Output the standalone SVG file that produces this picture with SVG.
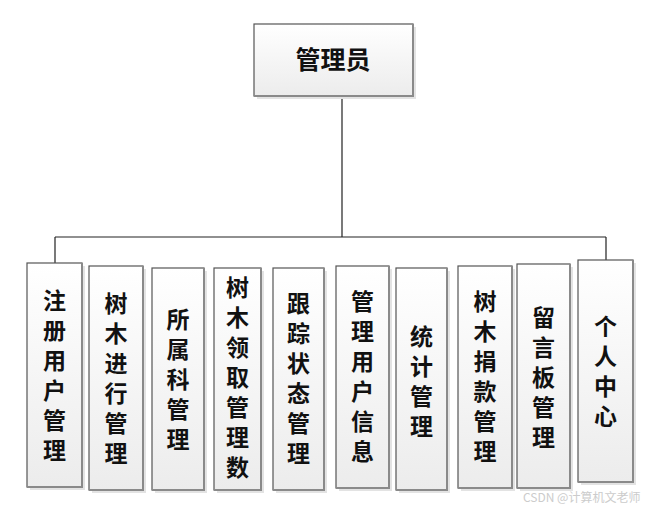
<svg xmlns="http://www.w3.org/2000/svg" width="654" height="511" viewBox="0 0 654 511">
<defs>
<linearGradient id="g" x1="0" y1="0" x2="0" y2="1">
<stop offset="0" stop-color="#ffffff"/>
<stop offset="1" stop-color="#ececec"/>
</linearGradient>
</defs>
<style>
.sh{fill:#e3e3e3;}
.bx{fill:url(#g);stroke:#555;stroke-width:1.2;}
.br{fill:none;stroke:#8a8a8a;stroke-width:2;}
.t{font-family:"Noto Sans CJK SC","Noto Sans",sans-serif;font-weight:bold;font-size:23px;fill:#111;text-anchor:middle;dominant-baseline:central;}
.c{fill:none;stroke:#222;stroke-width:1.2;}
.wm{font-family:"Noto Sans CJK SC","Liberation Sans",sans-serif;font-size:12px;fill:#cccccc;}
</style>
<rect width="654" height="511" fill="#fff"/>
<g id="connectors">
<path class="c" d="M342,96 V237 M55,237 H606 M55,237 V263 M606,237 V260"/>
</g>
<g id="n0">
<rect class="sh" x="257" y="27" width="159" height="72"/>
<rect class="bx" x="254" y="24" width="159" height="72"/>
<path class="br" d="M413,24 V96 H254"/>
<text class="t" x="333" y="58" style="font-size:25px">管理员</text>
</g>
<g id="n1">
<rect class="sh" x="30" y="266" width="55" height="224"/>
<rect class="bx" x="27" y="263" width="55" height="224"/>
<path class="br" d="M82,263 V487 H27"/>
<text class="t"><tspan x="54.5" y="299">注</tspan><tspan x="54.5" y="329">册</tspan><tspan x="54.5" y="359">用</tspan><tspan x="54.5" y="389">户</tspan><tspan x="54.5" y="419">管</tspan><tspan x="54.5" y="449">理</tspan></text>
</g>
<g id="n2">
<rect class="sh" x="92" y="269" width="54" height="224"/>
<rect class="bx" x="89" y="266" width="54" height="224"/>
<path class="br" d="M143,266 V490 H89"/>
<text class="t"><tspan x="116" y="302">树</tspan><tspan x="116" y="332">木</tspan><tspan x="116" y="362">进</tspan><tspan x="116" y="392">行</tspan><tspan x="116" y="422">管</tspan><tspan x="116" y="452">理</tspan></text>
</g>
<g id="n3">
<rect class="sh" x="155" y="271" width="52" height="222"/>
<rect class="bx" x="152" y="268" width="52" height="222"/>
<path class="br" d="M204,268 V490 H152"/>
<text class="t"><tspan x="178" y="318">所</tspan><tspan x="178" y="348">属</tspan><tspan x="178" y="378">科</tspan><tspan x="178" y="408">管</tspan><tspan x="178" y="438">理</tspan></text>
</g>
<g id="n4">
<rect class="sh" x="217" y="271" width="47" height="222"/>
<rect class="bx" x="214" y="268" width="47" height="222"/>
<path class="br" d="M261,268 V490 H214"/>
<text class="t"><tspan x="237.5" y="286">树</tspan><tspan x="237.5" y="316">木</tspan><tspan x="237.5" y="346">领</tspan><tspan x="237.5" y="376">取</tspan><tspan x="237.5" y="406">管</tspan><tspan x="237.5" y="436">理</tspan><tspan x="237.5" y="466">数</tspan></text>
</g>
<g id="n5">
<rect class="sh" x="276" y="271" width="51" height="222"/>
<rect class="bx" x="273" y="268" width="51" height="222"/>
<path class="br" d="M324,268 V490 H273"/>
<text class="t"><tspan x="298.5" y="302">跟</tspan><tspan x="298.5" y="332">踪</tspan><tspan x="298.5" y="362">状</tspan><tspan x="298.5" y="392">态</tspan><tspan x="298.5" y="422">管</tspan><tspan x="298.5" y="452">理</tspan></text>
</g>
<g id="n6">
<rect class="sh" x="339" y="269" width="53" height="222"/>
<rect class="bx" x="336" y="266" width="53" height="222"/>
<path class="br" d="M389,266 V488 H336"/>
<text class="t"><tspan x="362.5" y="300">管</tspan><tspan x="362.5" y="330">理</tspan><tspan x="362.5" y="360">用</tspan><tspan x="362.5" y="390">户</tspan><tspan x="362.5" y="420">信</tspan><tspan x="362.5" y="450">息</tspan></text>
</g>
<g id="n7">
<rect class="sh" x="399" y="271" width="51" height="222"/>
<rect class="bx" x="396" y="268" width="51" height="222"/>
<path class="br" d="M447,268 V490 H396"/>
<text class="t"><tspan x="421.5" y="335">统</tspan><tspan x="421.5" y="365">计</tspan><tspan x="421.5" y="395">管</tspan><tspan x="421.5" y="425">理</tspan></text>
</g>
<g id="n8">
<rect class="sh" x="461" y="269" width="54" height="222"/>
<rect class="bx" x="458" y="266" width="54" height="222"/>
<path class="br" d="M512,266 V488 H458"/>
<text class="t"><tspan x="485" y="300">树</tspan><tspan x="485" y="330">木</tspan><tspan x="485" y="360">捐</tspan><tspan x="485" y="390">款</tspan><tspan x="485" y="420">管</tspan><tspan x="485" y="450">理</tspan></text>
</g>
<g id="n9">
<rect class="sh" x="520" y="267" width="53" height="224"/>
<rect class="bx" x="517" y="264" width="53" height="224"/>
<path class="br" d="M570,264 V488 H517"/>
<text class="t"><tspan x="543.5" y="316">留</tspan><tspan x="543.5" y="346">言</tspan><tspan x="543.5" y="376">板</tspan><tspan x="543.5" y="406">管</tspan><tspan x="543.5" y="436">理</tspan></text>
</g>
<g id="n10">
<rect class="sh" x="581" y="263" width="55" height="222"/>
<rect class="bx" x="578" y="260" width="55" height="222"/>
<path class="br" d="M633,260 V482 H578"/>
<text class="t"><tspan x="605.5" y="325">个</tspan><tspan x="605.5" y="355">人</tspan><tspan x="605.5" y="385">中</tspan><tspan x="605.5" y="415">心</tspan></text>
</g>
<text class="wm" x="523" y="502">CSDN @计算机文老师</text>
</svg>
